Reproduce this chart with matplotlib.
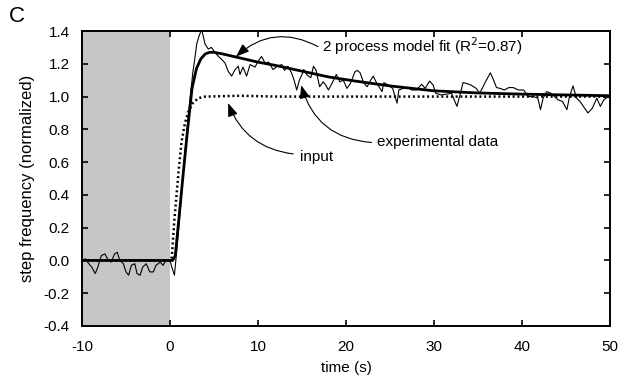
import matplotlib
matplotlib.use("Agg")
import matplotlib.pyplot as plt

plt.rcParams['font.family'] = ['Liberation Sans', 'DejaVu Sans']
plt.rcParams['axes.unicode_minus'] = False

# ---- data ----
exp_t = [-10.0, -9.6, -9.3, -8.9, -8.5, -8.2, -7.8, -7.4, -7.0, -6.7, -6.3, -6.0, -5.7, -5.3,
         -5.0, -4.7, -4.4, -4.0, -3.75, -3.4, -3.1, -2.7, -2.3, -1.9, -1.6, -1.1, -0.8, -0.45,
         0.0, 0.2, 0.5, 0.8, 1.2, 1.6, 2.0, 2.3, 2.6, 2.84, 3.03, 3.3, 3.6, 3.98, 4.35, 4.7,
         5.1, 5.5, 5.9, 6.25, 6.6, 7.0, 7.4, 7.76, 7.95, 8.3, 8.7, 9.1, 9.66, 10.0, 10.4, 10.8,
         11.2, 11.7, 12.2, 12.7, 13.0, 13.4, 13.8, 14.1, 14.4, 14.7, 15.0, 15.2, 15.6, 16.0,
         16.3, 16.6, 17.0, 17.4, 17.7, 18.0, 18.4, 18.9, 19.3, 19.7, 20.1, 20.5, 21.0, 21.3,
         21.6, 22.0, 22.4, 22.8, 23.1, 23.5, 24.1, 24.3, 24.8, 25.3, 25.8, 26.0, 26.5, 27.0,
         27.5, 28.0, 28.6, 29.0, 29.5, 29.9, 30.2, 30.8, 31.4, 32.0, 32.6, 33.0, 33.3, 33.7,
         34.2, 34.8, 35.2, 35.8, 36.4, 36.7, 37.1, 37.5, 38.0, 38.5, 39.0, 39.6, 40.2, 40.7,
         41.3, 41.8, 42.1, 42.4, 42.8, 43.3, 43.7, 44.1, 44.6, 45.1, 45.4, 45.8, 46.2, 46.6,
         47.1, 47.5, 48.0, 48.5, 48.9, 49.3, 49.8, 50.0]
exp_v = [0.0, 0.01, -0.015, -0.04, -0.08, -0.04, 0.03, 0.04, 0.0, -0.01, 0.04, 0.05, 0.0, -0.02,
         -0.07, -0.09, -0.03, -0.02, -0.08, -0.09, -0.04, -0.02, -0.07, -0.07, -0.03, -0.01, -0.03, 0.0,
         0.0, -0.04, -0.09, 0.08, 0.33, 0.60, 0.84, 1.00, 1.15, 1.24, 1.32, 1.37, 1.41, 1.32, 1.29, 1.30,
         1.27, 1.245, 1.225, 1.205, 1.155, 1.125, 1.165, 1.185, 1.135, 1.18, 1.125, 1.195, 1.18, 1.215, 1.245, 1.205,
         1.21, 1.165, 1.185, 1.195, 1.16, 1.185, 1.145, 1.10, 1.04, 1.10, 1.135, 1.165, 1.13, 1.115,
         1.185, 1.16, 1.06, 1.09, 1.07, 1.04, 1.08, 1.135, 1.09, 1.10, 1.05, 1.08, 1.15, 1.16,
         1.145, 1.085, 1.06, 1.10, 1.125, 1.08, 1.03, 1.085, 1.07, 1.05, 0.96, 1.04, 1.05, 1.055,
         1.04, 1.04, 1.075, 1.05, 1.095, 1.07, 1.02, 1.01, 1.015, 1.02, 0.94, 1.02, 1.085, 1.08,
         1.07, 1.05, 1.02, 1.085, 1.145, 1.11, 1.055, 1.05, 1.04, 1.055, 1.055, 1.04, 1.04, 1.0,
         1.0, 0.99, 0.92, 0.99, 1.03, 1.02, 1.0, 0.98, 0.97, 0.92, 1.0, 1.065, 0.99, 0.97,
         0.93, 0.90, 0.93, 0.99, 0.94, 0.98, 1.0, 1.0]

fit_t = [-10, 0, 0.3, 0.6, 1.0, 1.5, 2.0, 2.5, 3.0, 3.5, 4.0, 4.5, 5, 6, 8, 10, 12, 15, 18, 21,
         25, 30, 35, 40, 45, 50]
fit_v = [0.0, 0.0, 0.0, 0.03, 0.25, 0.53, 0.80, 1.05, 1.17, 1.23, 1.26, 1.27, 1.27, 1.26, 1.235,
         1.21, 1.19, 1.155, 1.12, 1.095, 1.065, 1.035, 1.022, 1.015, 1.01, 1.005]

inp_t = [-10, 0.0, 0.2, 0.5, 0.95, 1.3, 1.7, 2.1, 2.6, 3.2, 4.0, 8, 12, 16, 20, 25, 30, 35, 40, 45, 50]
inp_v = [0.0, 0.0, 0.02, 0.25, 0.53, 0.72, 0.84, 0.91, 0.96, 0.99, 1.0, 1.005, 1.0, 1.0, 1.0,
         1.0, 1.0, 1.0, 1.0, 1.0, 1.0]

xticks = [-10, 0, 10, 20, 30, 40, 50]
yticks = [-0.4, -0.2, 0.0, 0.2, 0.4, 0.6, 0.8, 1.0, 1.2, 1.4]
ytick_labels = ['-0.4', '-0.2', '0.0', '0.2', '0.4', '0.6', '0.8', '1.0', '1.2', '1.4']

# ---- figure ----
fig = plt.figure(figsize=(6.29, 3.82), dpi=100)
ax = fig.add_axes([0.1304, 0.1466, 0.8394, 0.7722])

ax.axvspan(-10, 0, color='#c6c6c8', lw=0, zorder=0)
ax.plot(inp_t, inp_v, color='black', lw=1.8, linestyle=(0, (0.8, 1.1)), zorder=2)
ax.plot(exp_t, exp_v, color='black', lw=0.8, zorder=3)
ax.plot(fit_t, fit_v, color='black', lw=2.0, zorder=4)

ax.set_xlim(-10, 50)
ax.set_ylim(-0.4, 1.4)
ax.set_xticks(xticks)
ax.set_yticks(yticks)
ax.set_yticklabels(ytick_labels)
ax.tick_params(direction='in', length=4, width=1.2, top=True, right=True, labelsize=11)
ax.tick_params(axis='x', pad=10)
ax.tick_params(axis='y', pad=9)
for s in ax.spines.values():
    s.set_linewidth(1.4)

ax.set_xlabel('time (s)', fontsize=11, labelpad=5)
ax.set_ylabel('step frequency (normalized)', fontsize=12, labelpad=6)
fig.text(0.014, 0.985, 'C', fontsize=16, va='top', ha='left')

arrow_kw = dict(arrowstyle='-|>,head_length=0.8,head_width=0.3', color='black', lw=0.8,
                shrinkA=0, shrinkB=0, mutation_scale=10)

ax.text(17.3, 1.305, '2 process model fit (R$^2$=0.87)', fontsize=11, va='center', ha='left')
ax.annotate('', xy=(7.5, 1.244), xytext=(16.8, 1.305),
            arrowprops=dict(connectionstyle='arc3,rad=0.35', **arrow_kw))

ax.text(23.5, 0.72, 'experimental data', fontsize=11, va='center', ha='left')
ax.annotate('', xy=(14.9, 1.07), xytext=(22.9, 0.72),
            arrowprops=dict(connectionstyle='arc3,rad=-0.35', **arrow_kw))

ax.text(14.8, 0.63, 'input', fontsize=11, va='center', ha='left')
ax.annotate('', xy=(6.6, 0.96), xytext=(14.0, 0.65),
            arrowprops=dict(connectionstyle='arc3,rad=-0.3', **arrow_kw))

fig.savefig('out.png', dpi=100)
